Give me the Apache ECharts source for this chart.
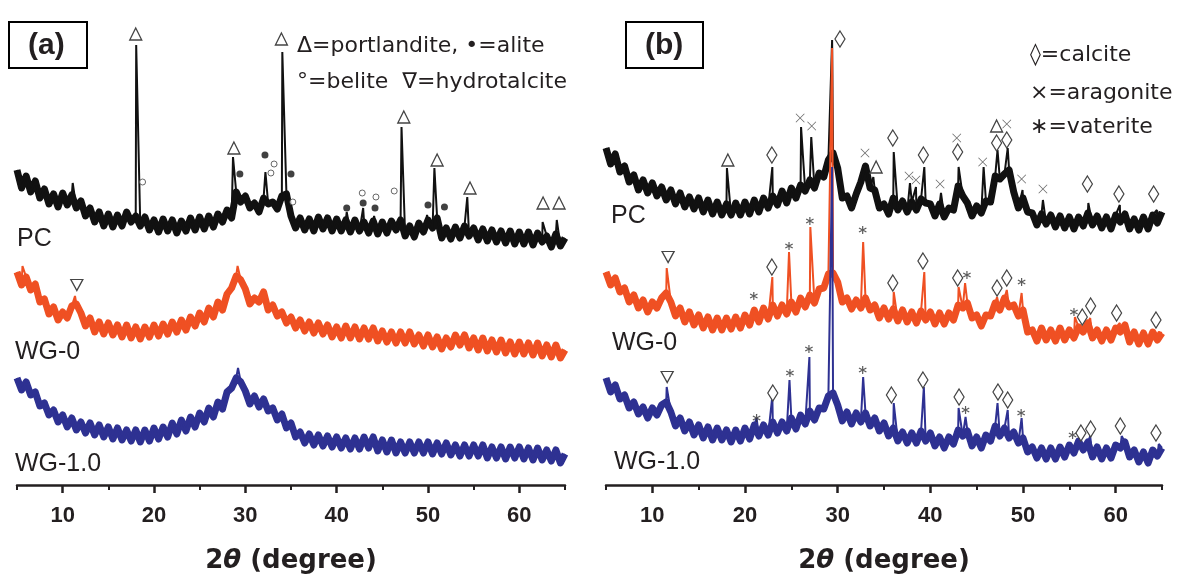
<!DOCTYPE html>
<html>
<head>
<meta charset="utf-8">
<script src="https://cdn.jsdelivr.net/npm/echarts@6/dist/echarts.min.js"></script>
<style>
  html, body { margin: 0; padding: 0; background: #fff; }
  #chart { width: 1177px; height: 580px; }
</style>
</head>
<body>
<div id="chart"></div>
<script>
// 2theta grid (deg) shared by every pattern
const TWO_THETA = [5, 5.5, 6, 6.5, 7, 7.5, 8, 8.5, 9, 9.5, 10, 10.5, 11, 11.5, 12, 12.5, 13, 13.5, 14, 14.5,
  15, 15.5, 16, 16.5, 17, 17.5, 18, 18.5, 19, 19.5, 20, 20.5, 21, 21.5, 22, 22.5, 23, 23.5, 24, 24.5,
  25, 25.5, 26, 26.5, 27, 27.5, 28, 28.5, 29, 29.5, 30, 30.5, 31, 31.5, 32, 32.5, 33, 33.5, 34, 34.5,
  35, 35.5, 36, 36.5, 37, 37.5, 38, 38.5, 39, 39.5, 40, 40.5, 41, 41.5, 42, 42.5, 43, 43.5, 44, 44.5,
  45, 45.5, 46, 46.5, 47, 47.5, 48, 48.5, 49, 49.5, 50, 50.5, 51, 51.5, 52, 52.5, 53, 53.5, 54, 54.5,
  55, 55.5, 56, 56.5, 57, 57.5, 58, 58.5, 59, 59.5, 60, 60.5, 61, 61.5, 62, 62.5, 63, 63.5, 64, 64.5, 65];

const MINOR_TICKS = [5, 15, 25, 35, 45, 55, 65];
const MAJOR_TICKS = [10, 20, 30, 40, 50, 60];

// (a) stacked intensities (a.u.), background read every 0.5 deg
const A_PC = [318, 300, 312, 296, 307, 290, 299, 284, 294, 281,
  295, 283, 293, 280, 287, 272, 280, 266, 276, 262,
  274, 261, 273, 262, 276, 266, 272, 262, 271, 258,
  268, 256, 269, 257, 268, 255, 267, 257, 270, 258,
  271, 259, 272, 261, 274, 266, 278, 270, 296, 286,
  292, 280, 285, 276, 290, 284, 286, 279, 292, 294,
  272, 260, 270, 258, 269, 257, 271, 259, 270, 257,
  269, 257, 268, 256, 268, 257, 266, 255, 267, 254,
  266, 255, 267, 258, 268, 252, 262, 251, 265, 256,
  268, 260, 270, 250, 260, 249, 261, 250, 262, 252,
  260, 248, 259, 247, 258, 246, 257, 245, 257, 244,
  256, 244, 256, 243, 255, 246, 252, 241, 254, 242, 250];
const A_WG0 = [216, 203, 211, 198, 204, 186, 189, 174, 181, 168,
  176, 170, 182, 184, 175, 162, 170, 156, 166, 154,
  165, 153, 163, 151, 163, 150, 161, 149, 161, 151,
  163, 152, 164, 154, 166, 156, 168, 158, 171, 162,
  175, 166, 180, 171, 186, 178, 194, 200, 212, 208,
  199, 184, 190, 186, 196, 178, 183, 172, 176, 165,
  171, 160, 168, 157, 166, 155, 165, 154, 163, 151,
  161, 150, 162, 150, 161, 149, 160, 149, 160, 147,
  157, 146, 156, 145, 156, 145, 156, 144, 153, 142,
  153, 141, 151, 139, 150, 141, 153, 143, 153, 140,
  150, 138, 150, 137, 148, 136, 148, 135, 146, 134,
  146, 134, 145, 133, 145, 132, 143, 131, 143, 130, 138];
const A_WG1 = [110, 98, 106, 93, 96, 82, 85, 73, 78, 66,
  73, 61, 70, 58, 66, 55, 65, 53, 63, 51,
  61, 49, 60, 48, 58, 47, 58, 46, 58, 47,
  60, 49, 61, 51, 65, 54, 68, 57, 71, 61,
  75, 66, 80, 71, 86, 79, 96, 100, 110, 106,
  97, 84, 92, 81, 89, 77, 80, 68, 74, 60,
  65, 51, 56, 45, 54, 43, 53, 42, 52, 41,
  51, 40, 50, 39, 50, 39, 51, 40, 51, 37,
  48, 36, 48, 35, 46, 35, 46, 35, 46, 35,
  46, 34, 45, 34, 45, 33, 43, 32, 43, 32,
  43, 32, 43, 30, 41, 30, 41, 29, 41, 30,
  41, 29, 40, 28, 40, 28, 38, 27, 38, 25, 34];

// sharp reflections [2theta, top]
const A_PC_PEAKS = [[11.1, 305], [18.05, 443], [28.65, 331], [32.2, 316], [34.05, 436], [41.1, 276],
  [42.9, 280], [44.1, 272], [47.1, 361], [49.9, 273], [50.7, 320], [54.3, 291], [62.55, 266], [64.1, 268]];
const A_WG0_PEAKS = [[5.6, 222], [11.35, 192], [29.15, 222], [32.05, 198]];
const A_WG1_PEAKS = [[29.2, 120]];

// (b) stacked intensities (a.u.)
const B_PC = [340, 324, 334, 316, 322, 306, 313, 298, 308, 295,
  305, 292, 301, 288, 298, 284, 295, 281, 291, 279,
  290, 276, 288, 274, 286, 273, 284, 273, 285, 273,
  286, 274, 288, 276, 290, 280, 292, 283, 297, 285,
  300, 290, 303, 297, 308, 300, 315, 311, 328, 335,
  320, 290, 292, 280, 294, 306, 322, 300, 298, 280,
  284, 274, 290, 278, 287, 276, 286, 278, 289, 285,
  284, 272, 284, 271, 280, 278, 302, 292, 285, 272,
  282, 275, 287, 286, 312, 309, 314, 318, 296, 280,
  290, 276, 275, 263, 274, 264, 273, 261, 272, 260,
  271, 259, 271, 262, 275, 263, 272, 260, 271, 259,
  273, 266, 274, 259, 269, 258, 271, 259, 273, 265, 276];
const B_WG0 = [216, 203, 210, 196, 200, 186, 193, 180, 188, 176,
  186, 180, 190, 195, 186, 172, 180, 166, 176, 163,
  173, 160, 171, 158, 170, 158, 170, 159, 171, 160,
  173, 163, 178, 166, 180, 169, 183, 172, 183, 174,
  186, 176, 190, 181, 193, 185, 199, 200, 214, 215,
  206, 186, 190, 179, 188, 180, 190, 178, 183, 170,
  180, 169, 179, 167, 178, 166, 176, 165, 177, 168,
  176, 164, 175, 164, 175, 168, 183, 180, 185, 170,
  173, 162, 173, 172, 185, 178, 190, 181, 183, 172,
  178, 156, 158, 147, 160, 148, 158, 147, 160, 148,
  158, 150, 161, 156, 165, 150, 158, 147, 158, 148,
  160, 156, 163, 146, 156, 144, 155, 144, 156, 148, 155];
const B_WG1 = [110, 96, 103, 89, 93, 80, 86, 74, 81, 70,
  80, 73, 83, 86, 76, 62, 70, 57, 66, 53,
  63, 50, 61, 48, 60, 48, 58, 46, 58, 47,
  60, 49, 63, 52, 63, 53, 66, 55, 66, 57,
  70, 59, 73, 64, 77, 68, 80, 79, 92, 95,
  83, 67, 76, 64, 75, 66, 75, 62, 70, 57,
  65, 52, 60, 47, 56, 45, 55, 45, 57, 47,
  55, 42, 51, 40, 51, 44, 58, 52, 57, 42,
  51, 40, 53, 47, 62, 52, 60, 50, 56, 45,
  50, 36, 41, 30, 40, 29, 40, 29, 41, 31,
  43, 35, 47, 38, 46, 31, 41, 29, 40, 30,
  43, 40, 46, 31, 38, 26, 36, 25, 38, 32, 40];

const B_PC_PEAKS = [[18.05, 320], [22.95, 321], [26.05, 361], [27.15, 351], [29.4, 448], [33.85, 311],
  [36.05, 336], [37.8, 305], [38.45, 301], [39.35, 321], [41.15, 295], [43.05, 321], [45.75, 321],
  [47.25, 338], [48.35, 340], [49.95, 298], [52.15, 288], [57.05, 285], [60.45, 283], [64.45, 278]];
const B_WG0_PEAKS = [[11.55, 220], [22.95, 211], [24.75, 236], [27.05, 261], [29.4, 440], [32.75, 246],
  [36.05, 196], [39.35, 216], [43.05, 201], [43.75, 205], [47.2, 191], [48.25, 198], [49.85, 195],
  [55.6, 171], [57.25, 170], [60.45, 165], [64.6, 156]];
const B_WG1_PEAKS = [[11.55, 101], [21.25, 70], [22.95, 92], [24.8, 108], [26.95, 131], [29.4, 321],
  [32.75, 111], [36.05, 85], [39.3, 101], [43.05, 80], [43.8, 71], [47.25, 85], [48.35, 78],
  [49.85, 70], [57.25, 52], [60.65, 52], [64.65, 44]];

// phase markers [2theta, height]
const A_PORTLANDITE = [[18.0, 454], [28.75, 340], [33.95, 449], [47.35, 371], [51.0, 328], [54.6, 300], [62.6, 285], [64.35, 285]];
const A_ALITE = [[29.4, 314], [32.15, 333], [35.0, 314], [41.1, 280], [42.9, 285], [44.2, 280], [50.0, 283], [51.8, 281]];
const A_BELITE = [[18.75, 306], [32.8, 315], [33.15, 324], [35.2, 286], [42.8, 295], [44.3, 291], [46.3, 297]];
const A_HYDROTALCITE = [[11.55, 203]];

const B_PORTLANDITE = [[18.15, 328], [34.15, 321], [47.15, 362]];
const B_CALCITE = [[22.9, 333], [30.25, 449], [35.95, 350], [39.25, 333], [42.95, 336], [47.15, 345], [48.25, 348],
  [56.95, 304], [60.35, 294], [64.1, 294],
  [22.9, 221], [35.95, 205], [39.2, 227], [42.95, 210], [47.2, 200], [48.25, 210], [56.4, 171], [57.3, 182],
  [60.1, 175], [64.35, 168],
  [23.0, 95], [35.8, 93], [39.2, 108], [43.1, 91], [47.3, 96], [48.35, 88], [56.25, 55], [57.3, 59],
  [60.5, 62], [64.35, 55]];
const B_ARAGONITE = [[25.95, 370], [27.2, 362], [32.95, 335], [37.7, 312], [38.45, 308], [41.05, 304],
  [42.85, 350], [45.65, 326], [48.25, 364], [49.85, 309], [52.15, 299]];
const B_VATERITE = [[20.95, 192], [24.75, 242], [27.0, 267], [32.7, 258], [43.95, 213], [49.85, 206], [55.5, 176],
  [21.25, 70], [24.85, 115], [26.9, 139], [32.7, 118], [43.8, 78], [49.8, 75], [55.35, 53]];
const B_HYDROTALCITE = [[11.7, 231], [11.6, 111]];

const INK = '#231f20';
const BLACK = '#111111';
const ORANGE = '#ef5023';
const BLUE = '#2e3192';
const MARK = '#444444';

function background(base) {
  return TWO_THETA.map((t, i) => [t, base[i]]);
}

function buildTrace(base, peaks) {
  return background(base).concat(peaks).sort((a, b) => a[0] - b[0]);
}

function xAxes(grid) {
  return [
    {
      gridIndex: grid, type: 'value', min: 5, max: 65, position: 'bottom',
      axisLine: { lineStyle: { color: INK, width: 2.5 } },
      axisTick: { customValues: MINOR_TICKS, length: 5, lineStyle: { color: INK, width: 2 } },
      axisLabel: { show: false },
      splitLine: { show: false }
    },
    {
      gridIndex: grid, type: 'value', min: 5, max: 65, position: 'bottom',
      axisLine: { show: false },
      axisTick: { customValues: MAJOR_TICKS, length: 8, lineStyle: { color: INK, width: 2.5 } },
      axisLabel: {
        customValues: MAJOR_TICKS, margin: 20, color: INK,
        fontFamily: 'Liberation Sans', fontWeight: 'bold', fontSize: 22
      },
      splitLine: { show: false },
      name: '2{t|θ} (degree)', nameLocation: 'middle', nameGap: 63,
      nameTextStyle: {
        fontFamily: 'DejaVu Sans', fontWeight: 'bold', fontSize: 26, color: INK,
        rich: { t: { fontFamily: 'DejaVu Sans', fontWeight: 'bold', fontStyle: 'italic', fontSize: 26, color: INK } }
      }
    }
  ];
}

// noisy background drawn as a thick band, full pattern (with reflections) as a thin line on top
function pattern(axis, base, peaks, color) {
  const common = {
    type: 'line', xAxisIndex: axis, yAxisIndex: axis / 2,
    symbol: 'none', showSymbol: false, silent: true
  };
  return [
    Object.assign({}, common, { data: background(base), lineStyle: { color: color, width: 7, join: 'round' } }),
    Object.assign({}, common, { data: buildTrace(base, peaks), lineStyle: { color: color, width: 2, join: 'bevel' } })
  ];
}

function marks(axis, data, symbol, size, extra) {
  return Object.assign({
    type: 'scatter', xAxisIndex: axis, yAxisIndex: axis / 2, data: data,
    symbol: symbol, symbolSize: size, silent: true, z: 5,
    itemStyle: { color: '#fff', borderColor: MARK, borderWidth: 1.3, opacity: 1 }
  }, extra || {});
}

const X_PATH = 'path://M0.6,0L10,9.4L9.4,10L0,0.6Z M9.4,0L10,0.6L0.6,10L0,9.4Z';
const STAR_PATH = 'path://M4.3,0L5.7,0L5.7,10L4.3,10Z M1.02,1.89L9.68,6.89L8.98,8.11L0.32,3.11Z M0.32,6.89L8.98,1.89L9.68,3.11L1.02,8.11Z';

function label(x, y, text, size, family, weight) {
  return {
    type: 'text', x: x, y: y, silent: true,
    style: {
      text: text, fill: INK, fontSize: size, fontFamily: family || 'Liberation Sans',
      fontWeight: weight || 'normal', textVerticalAlign: 'middle', verticalAlign: 'middle'
    }
  };
}

const chart = echarts.init(document.getElementById('chart'));
chart.setOption({
  animation: false,
  backgroundColor: '#fff',
  grid: [
    { left: 17, width: 548, top: 5, height: 480 },
    { left: 606, width: 556, top: 5, height: 480 }
  ],
  xAxis: xAxes(0).concat(xAxes(1)),
  yAxis: [
    { gridIndex: 0, type: 'value', min: 3, max: 483, show: false },
    { gridIndex: 1, type: 'value', min: 3, max: 483, show: false }
  ],
  series: [].concat(
    pattern(0, A_PC, A_PC_PEAKS, BLACK),
    pattern(0, A_WG0, A_WG0_PEAKS, ORANGE),
    pattern(0, A_WG1, A_WG1_PEAKS, BLUE),
    pattern(2, B_PC, B_PC_PEAKS, BLACK),
    pattern(2, B_WG0, B_WG0_PEAKS, ORANGE),
    pattern(2, B_WG1, B_WG1_PEAKS, BLUE),
    [
      marks(0, A_PORTLANDITE, 'triangle', [12, 12]),
      marks(0, A_ALITE, 'circle', 7, { itemStyle: { color: '#111', borderWidth: 0 } }),
      marks(0, A_BELITE, 'circle', 6, { itemStyle: { color: '#fff', borderColor: MARK, borderWidth: 1 } }),
      marks(0, A_HYDROTALCITE, 'triangle', [12, 11], { symbolRotate: 180 }),

      marks(2, B_PORTLANDITE, 'triangle', [12, 12]),
      marks(2, B_CALCITE, 'diamond', [10, 16]),
      marks(2, B_ARAGONITE, X_PATH, [9, 9], { itemStyle: { color: MARK, borderWidth: 0 } }),
      marks(2, B_VATERITE, STAR_PATH, [8, 8], { itemStyle: { color: '#333', borderWidth: 0 } }),
      marks(2, B_HYDROTALCITE, 'triangle', [12, 11], { symbolRotate: 180 })
    ]
  ),
  graphic: [
    { type: 'rect', shape: { x: 9, y: 22, width: 78, height: 46 }, style: { fill: '#fff', stroke: '#000', lineWidth: 2 } },
    label(28, 46, '(a)', 30, 'Liberation Sans', 'bold'),
    { type: 'rect', shape: { x: 626, y: 22, width: 77, height: 46 }, style: { fill: '#fff', stroke: '#000', lineWidth: 2 } },
    label(645, 46, '(b)', 30, 'Liberation Sans', 'bold'),

    label(297, 46, 'Δ=portlandite, •=alite', 22, 'DejaVu Sans'),
    label(297, 82, '°=belite  ∇=hydrotalcite', 22, 'DejaVu Sans'),
    label(1030, 55, '◊=calcite', 22, 'DejaVu Sans'),
    label(1030, 93, '×=aragonite', 22, 'DejaVu Sans'),
    label(1030, 127, '∗=vaterite', 22, 'DejaVu Sans'),

    label(17, 239, 'PC', 25),
    label(15, 352, 'WG-0', 25),
    label(15, 464, 'WG-1.0', 25),
    label(611, 216, 'PC', 25),
    label(612, 343, 'WG-0', 25),
    label(614, 462, 'WG-1.0', 25)
  ]
});
</script>
</body>
</html>
